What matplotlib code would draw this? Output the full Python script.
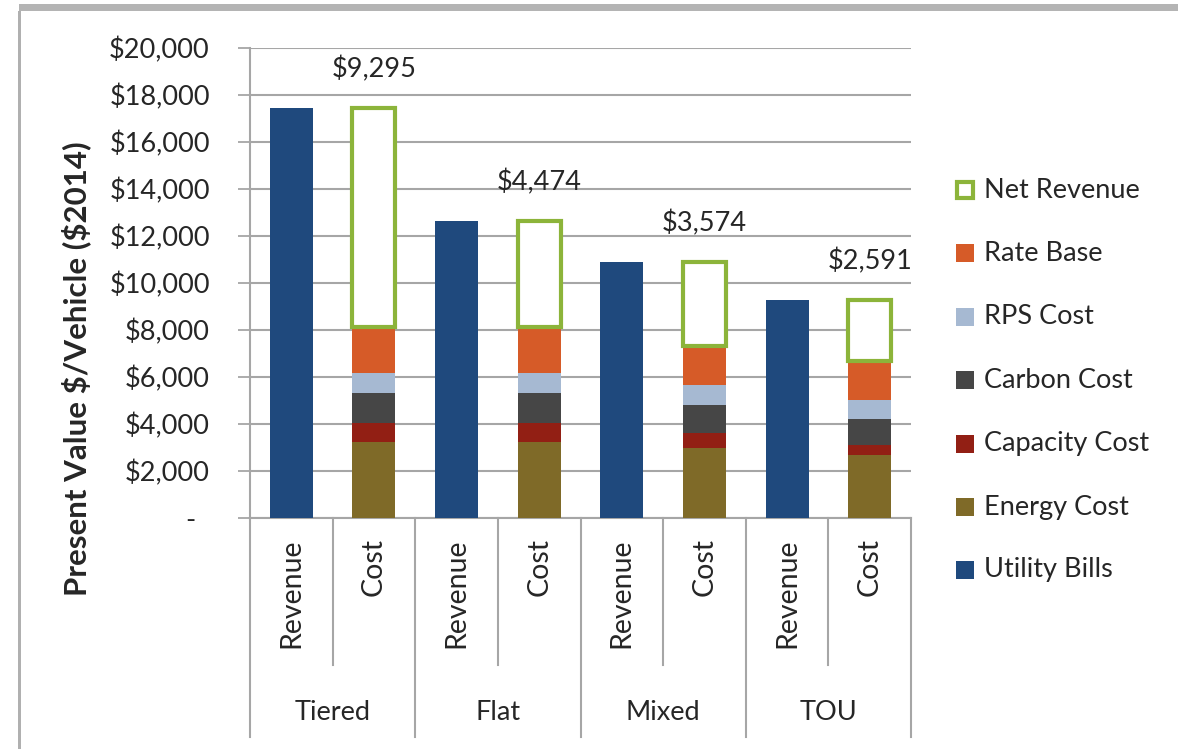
import matplotlib
matplotlib.use("Agg")
import matplotlib.pyplot as plt
from matplotlib.patches import Rectangle
from matplotlib.transforms import blended_transform_factory
import numpy as np

plt.rcParams['font.family'] = ['Lato', 'DejaVu Sans']

# ---- data ($ per vehicle, present value, $2014) ----
rate_designs = ["Tiered", "Flat", "Mixed", "TOU"]
bar_kinds = ["Revenue", "Cost"]

utility_bills = [17440, 12620, 10890, 9280]
energy_cost = [3220, 3220, 2990, 2680]
capacity_cost = [840, 840, 640, 430]
carbon_cost = [1280, 1280, 1180, 1090]
rps_cost = [820, 820, 850, 820]
rate_base = [1985, 1985, 1655, 1670]
net_revenue = [9295, 4474, 3574, 2591]

y_ticks = list(range(0, 20001, 2000))

# ---- styling ----
C_BILLS = "#1f497d"
C_ENERGY = "#7f6a28"
C_CAP = "#921f14"
C_CARBON = "#464646"
C_RPS = "#a6b9d2"
C_RATE = "#d65b28"
C_NET = "#8cb43a"
GRID = "#a6a6a6"
TXT = "#262626"
FS = 19.5

W, H = 1178, 749
fig = plt.figure(figsize=(W / 100, H / 100), dpi=100)
fig.patch.set_facecolor("white")

def fx(px):
    return px / W

def fy(py):
    return 1 - py / H

left, right, top, bottom = 250, 911, 48, 518
ax = fig.add_axes([fx(left), fy(bottom), fx(right - left), fy(top) - fy(bottom)])

n = len(rate_designs)
rev_x = np.arange(n) * 2
cost_x = rev_x + 1
bw = 0.52

ax.bar(rev_x, utility_bills, bw, color=C_BILLS, zorder=3)

base = np.zeros(n)
for vals, col in [(energy_cost, C_ENERGY), (capacity_cost, C_CAP),
                  (carbon_cost, C_CARBON), (rps_cost, C_RPS), (rate_base, C_RATE)]:
    ax.bar(cost_x, vals, bw, bottom=base, color=col, zorder=3)
    base = base + np.array(vals)

ax.bar(cost_x, net_revenue, bw, bottom=base, facecolor="white",
       edgecolor=C_NET, linewidth=3, zorder=4)

for xi, b, v in zip(cost_x, base, net_revenue):
    ax.annotate(f"${v:,.0f}", (xi, b + v), xytext=(0, 28), textcoords="offset points",
                ha="center", va="center", fontsize=FS, color=TXT, annotation_clip=False)

# axes
ax.set_xlim(-0.5, 2 * n - 0.5)
ax.set_ylim(0, 20000)
ax.set_yticks(y_ticks)
ax.set_yticklabels(["-  " if v == 0 else f"${v:,.0f}" for v in y_ticks],
                   fontsize=FS, color=TXT)
ax.tick_params(axis="y", length=9, width=1.3, color=GRID, pad=20)
ax.set_xticks([])
ax.yaxis.grid(True, color=GRID, linewidth=1.5, zorder=0)
ax.set_axisbelow(True)
for s in ["top", "right"]:
    ax.spines[s].set_visible(False)
for s in ["left", "bottom"]:
    ax.spines[s].set_color(GRID)
    ax.spines[s].set_linewidth(1.5)

# two-level category axis
trans = blended_transform_factory(ax.transData, ax.transAxes)
ah = bottom - top

def ay(py):
    return (bottom - py) / ah

for i in range(n):
    for j, kind in enumerate(bar_kinds):
        ax.text(2 * i + j, ay(538), kind, transform=trans, rotation=90,
                ha="center", va="top", fontsize=20.5, color=TXT)
    ax.text(2 * i + 0.5, ay(713), rate_designs[i], transform=trans,
            ha="center", va="center", fontsize=FS, color=TXT)
    ax.plot([2 * i + 0.5] * 2, [0, ay(665)], transform=trans, color=GRID,
            lw=1.5, clip_on=False)
for k in range(n + 1):
    ax.plot([2 * k - 0.5] * 2, [0, ay(737)], transform=trans, color=GRID,
            lw=1.5, clip_on=False)

fig.text(fx(76), fy(369), r"Present Value \$/Vehicle (\$2014)", rotation=90,
         ha="center", va="center", fontsize=22.5, fontweight="bold", color=TXT)

# legend
legend_items = [
    ("Net Revenue", "white", C_NET),
    ("Rate Base", C_RATE, None),
    ("RPS Cost", C_RPS, None),
    ("Carbon Cost", C_CARBON, None),
    ("Capacity Cost", C_CAP, None),
    ("Energy Cost", C_ENERGY, None),
    ("Utility Bills", C_BILLS, None),
]
row_y = [190, 253, 317, 380, 444, 507, 570]
sq = 18
for (lab, face, edge), ry in zip(legend_items, row_y):
    if edge is None:
        r = Rectangle((fx(956), fy(ry + sq / 2)), fx(sq), sq / H,
                      transform=fig.transFigure, facecolor=face, edgecolor="none")
    else:
        r = Rectangle((fx(957), fy(ry + sq / 2 - 1)), fx(sq - 2), (sq - 2) / H,
                      transform=fig.transFigure, facecolor=face, edgecolor=edge,
                      linewidth=3)
    fig.add_artist(r)
    fig.text(fx(984), fy(ry), lab, ha="left", va="center", fontsize=FS, color=TXT)

# outer frame
fig.add_artist(Rectangle((fx(19), fy(11)), 1 - fx(19), 7 / H, transform=fig.transFigure,
                         facecolor="#b4b4b4", edgecolor="none"))
fig.add_artist(Rectangle((fx(18), 0), 3 / W, fy(11), transform=fig.transFigure,
                         facecolor="#b0b0b0", edgecolor="none"))

fig.savefig("out.png", dpi=100, facecolor="white")
